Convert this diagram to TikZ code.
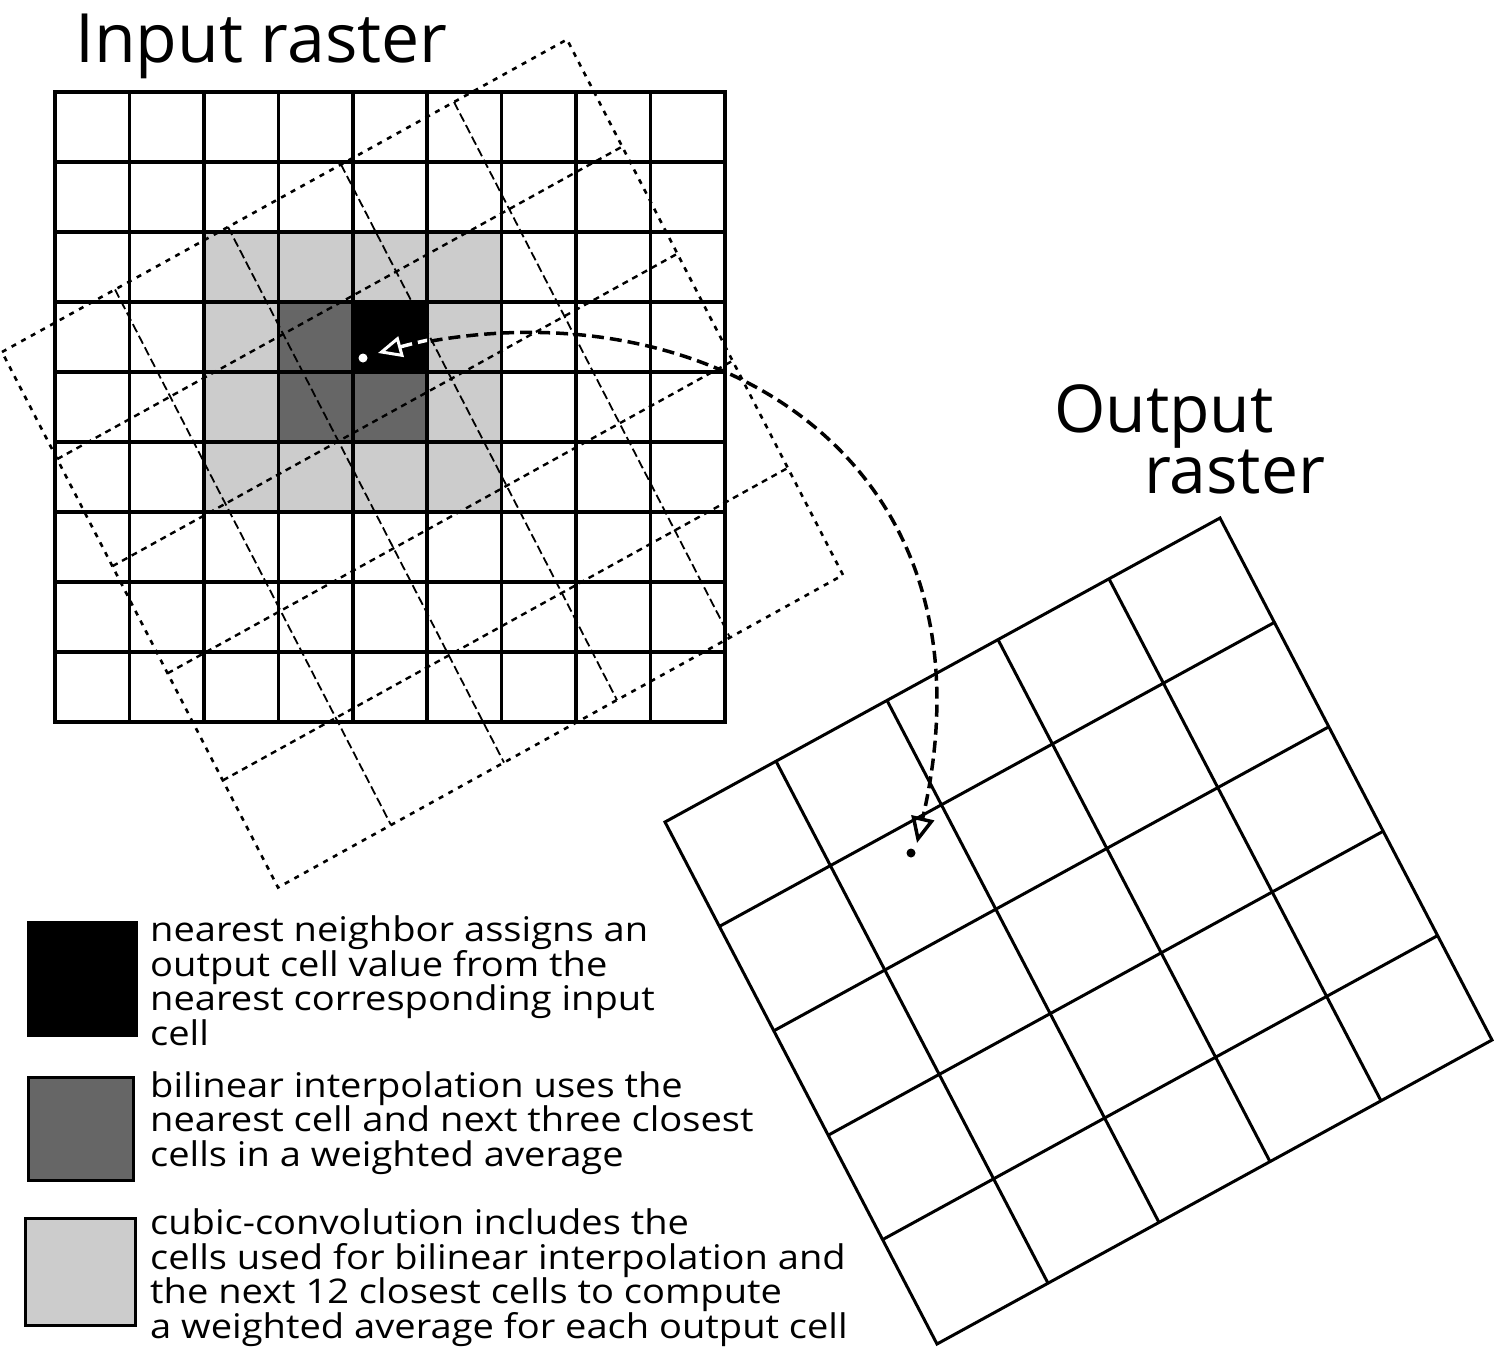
\documentclass[tikz,border=0pt]{standalone}
\usepackage{fontspec}
\setmainfont{Open Sans}
\newfontfamily\legendfont[FakeStretch=1.12]{Open Sans}
\usepackage{tikz}
\usetikzlibrary{arrows.meta}
\usepackage{xcolor}
\definecolor{MidGray}{HTML}{666666}
\definecolor{PaleGray}{HTML}{CCCCCC}

\begin{document}
\begin{tikzpicture}[x=1pt,y=-1pt,>=Latex,
    cellline/.style={line width=3.5pt,line cap=rect},
    ovlframe/.style={line width=2.6pt,dash pattern=on 5pt off 6pt},
    ovlrow/.style={line width=2.4pt,dash pattern=on 6pt off 5pt},
    ovlcol/.style={line width=1.8pt,dash pattern=on 9pt off 4pt},
    outline/.style={line width=3pt},
    remap/.style={line width=3.5pt,dash pattern=on 12pt off 6pt},
    swatch/.style={draw,line width=3pt},
    title/.style={inner sep=0pt,anchor=base west,font=\fontsize{66}{55}\selectfont},
    legendtxt/.style={inner sep=0pt,anchor=base west,align=left,
      font=\legendfont\fontsize{34}{34.5}\selectfont}]
  \useasboundingbox (0,0) rectangle (1494,1350);

  % cells of the input raster used by each method
  \fill[PaleGray] (203.9,232) rectangle (501.6,512);
  \fill[MidGray] (278.3,302) rectangle (427.2,442);
  \fill[black] (352.8,302) rectangle (427.2,372);

  % input raster
  \foreach \i in {0,...,9} {
    \draw[cellline] ({55+74.44*\i},92) -- ({55+74.44*\i},722);
    \draw[cellline] (55,{92+70*\i}) -- (725,{92+70*\i});
  }
  \node[title,font=\fontsize{68}{55}\selectfont] (inlab) at (75,62) {Input raster};

  % output raster laid over the input
  \begin{scope}[shift={(2,352)},x={(113pt,62.5pt)},y={(55.2pt,-107.1pt)}]
    \foreach \k in {1,...,4} {
      \draw[ovlcol] (\k,0) -- (\k,5);
      \draw[ovlrow] (0,\k) -- (5,\k);
    }
    \draw[ovlframe] (0,0) -- (5,0) -- (5,5) -- (0,5) -- cycle;
  \end{scope}

  % output raster
  \begin{scope}[shift={(665,822)},x={(111pt,60.8pt)},y={(54.4pt,-104.4pt)}]
    \foreach \k in {1,...,4} {
      \draw[outline] (\k,0) -- (\k,5);
      \draw[outline] (0,\k) -- (5,\k);
    }
    \draw[outline] (0,0) -- (5,0) -- (5,5) -- (0,5) -- cycle;
  \end{scope}
  \node[title,align=left] (outlab) at (1054,493) {Output\\\hspace*{90pt}raster};

  % cell centre carried from input to output
  \coordinate (src) at (378,353);
  \coordinate (dst) at (917,843);
  \draw[remap,-{Triangle[open,length=26pt,width=23pt,line width=3.5pt]}]
    (src) .. controls (680,270) and (1010,440) .. (dst);
  \begin{scope}
    \clip (352.8,302) rectangle (427.2,372);
    \draw[remap,white,{Triangle[open,length=24pt,width=21pt,line width=3pt]}-]
      (src) .. controls (680,270) and (1010,440) .. (dst);
  \end{scope}
  \fill[white] (363,358) circle (4.5pt);
  \fill[black] (911,853) circle (4.5pt);

  % legend
  \draw[swatch,fill=black] (28,922) rectangle (136,1035);
  \draw[swatch,fill=MidGray] (28,1077) rectangle (133,1180);
  \draw[swatch,fill=PaleGray] (25,1218) rectangle (135,1325);
  \node[legendtxt] (nearest) at (150,1045) {nearest neighbor assigns an\\output cell value from the\\nearest corresponding input\\cell};
  \node[legendtxt] (bilinear) at (150,1166) {bilinear interpolation uses the\\nearest cell and next three closest\\cells in a weighted average};
  \node[legendtxt] (cubic) at (150,1338) {cubic-convolution includes the\\cells used for bilinear interpolation and\\the next 12 closest cells to compute\\a weighted average for each output cell};
\end{tikzpicture}
\end{document}
